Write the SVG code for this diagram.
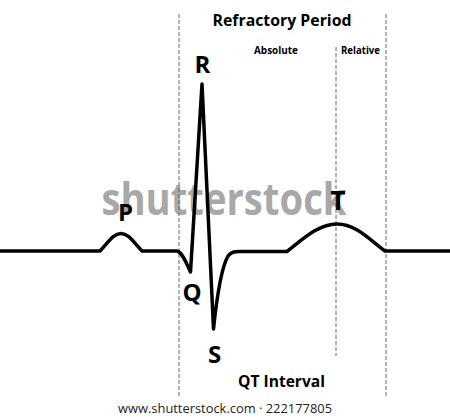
<svg xmlns="http://www.w3.org/2000/svg" width="450" height="419" viewBox="0 0 450 419">
<style>
.dash{stroke:#666;stroke-width:1;stroke-dasharray:4 2;fill:none}
.lbl{font-family:"Open Sans","Liberation Sans",sans-serif;font-weight:bold;fill:#000;text-anchor:middle}
.trace{stroke:#000;stroke-width:3.5;fill:none;stroke-linejoin:round;stroke-linecap:round}
</style>
<rect width="450" height="419" fill="#fff"/>
<text id="watermark" x="224" y="215" font-family="Open Sans, Liberation Sans, sans-serif" font-weight="bold" font-size="44" fill="#a8a8a8" text-anchor="middle" textLength="245" lengthAdjust="spacingAndGlyphs">shutterstock</text>
<g id="connectors">
<line class="dash" x1="179" y1="14" x2="179" y2="398"/>
<line class="dash" x1="386" y1="14" x2="386" y2="398"/>
<line class="dash" x1="336" y1="47" x2="336" y2="356"/>
</g>
<g id="ecg">
<path class="trace" d="M-2,251 H100 C108,243 113,233.5 121,233.5 C129,233.5 134,243 142,251 H177 C182,252 186,262 190.5,272 L202,84 L213.5,329 C216,305 220,270 228,256 C231,252 234,251.5 240,251.5 H287 C302,240 318,224 337,224 C356,224 370,240 385,251 H452"/>
</g>
<g id="title"><text class="lbl" x="282" y="26" font-size="16" textLength="139" lengthAdjust="spacingAndGlyphs">Refractory Period</text></g>
<g id="absolute"><text class="lbl" x="276" y="54" font-size="10.5" textLength="44" lengthAdjust="spacingAndGlyphs">Absolute</text></g>
<g id="relative"><text class="lbl" x="360.5" y="54" font-size="10.5" textLength="39" lengthAdjust="spacingAndGlyphs">Relative</text></g>
<g id="R"><text class="lbl" x="202.5" y="73" font-size="24">R</text></g>
<g id="P"><text class="lbl" x="125.5" y="221" font-size="24">P</text></g>
<g id="T"><text class="lbl" x="338" y="210" font-size="26">T</text></g>
<g id="Q"><text class="lbl" x="192" y="301" font-size="24">Q</text></g>
<g id="S"><text class="lbl" x="214.5" y="363" font-size="24">S</text></g>
<g id="qt"><text class="lbl" x="281.5" y="387" font-size="15.5" textLength="87" lengthAdjust="spacingAndGlyphs">QT Interval</text></g>
<text x="225" y="413" font-family="Open Sans, Liberation Sans, sans-serif" font-size="12.5" fill="#222" text-anchor="middle" textLength="214" lengthAdjust="spacingAndGlyphs">www.shutterstock.com · 222177805</text>
</svg>
